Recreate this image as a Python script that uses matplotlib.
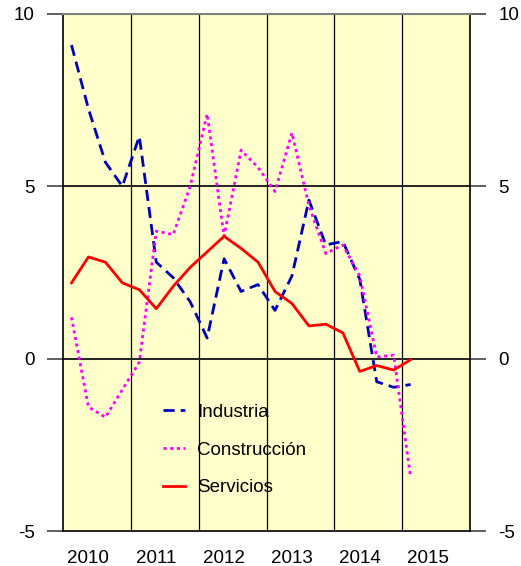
import numpy as np
import matplotlib
matplotlib.use("Agg")
from matplotlib import pyplot as plt

plt.rcParams['font.family'] = ['Liberation Sans', 'DejaVu Sans']
plt.rcParams['axes.unicode_minus'] = False

# quarterly series, 2010 Q1 .. 2015 Q1
quarters = [2010 + i / 4 + 0.125 for i in range(21)]
industria = [9.1, 7.25, 5.7, 5.0, 6.45, 2.8, 2.35, 1.65, 0.6, 2.9, 1.95, 2.15,
             1.4, 2.4, 4.6, 3.3, 3.4, 2.3, -0.67, -0.83, -0.75]
construccion = [1.2, -1.4, -1.7, -0.9, -0.1, 3.7, 3.6, 5.0, 7.1, 3.55, 6.05, 5.55,
                4.85, 6.55, 4.45, 3.05, 3.3, 2.4, 0.05, 0.1, -3.45]
servicios = [2.2, 2.95, 2.8, 2.2, 2.0, 1.45, 2.1, 2.65, 3.1, 3.55, 3.2, 2.8,
             1.95, 1.6, 0.95, 1.0, 0.75, -0.37, -0.2, -0.33, -0.03]
years = [2010, 2011, 2012, 2013, 2014, 2015]
yticks = [-5, 0, 5, 10]

fig = plt.figure(figsize=(5.21, 5.66), dpi=100)
ax = fig.add_axes([63 / 521, 1 - 531 / 566, 407 / 521, 517 / 566])
ax.set_facecolor('#FFFFCC')

# year separators and horizontal grid
for yr in years[1:]:
    ax.axvline(yr, color='black', lw=0.9, zorder=1)
for v in [0, 5]:
    ax.axhline(v, color='#222222', lw=1.4, zorder=1)

ax.plot(quarters, industria, color='#0000C0', lw=2.0, dashes=(4, 2.2), label='Industria', zorder=3)
ax.plot(quarters, construccion, color='#FF00FF', lw=2.0, dashes=(1.1, 1.3), label='Construcción', zorder=3)
ax.plot(quarters, servicios, color='#FF0000', lw=2.0, label='Servicios', zorder=3)

ax.set_xlim(2010, 2016)
ax.set_ylim(-5, 10)

ax.set_xticks([y + 0.375 for y in years])
ax.set_xticklabels([str(y) for y in years])
ax.tick_params(axis='x', length=0, pad=14, labelsize=13.5)

ax.set_yticks(yticks)
ax.tick_params(axis='y', direction='out', length=11.5, width=1.2, color='#444444',
               left=True, right=True, labelleft=True, labelright=True, pad=9, labelsize=13.5)

for side in ['left', 'right', 'bottom']:
    ax.spines[side].set_color('black')
    ax.spines[side].set_linewidth(1.2)
ax.spines['top'].set_color('#808080')
ax.spines['top'].set_linewidth(1.5)

leg = ax.legend(loc='upper left', bbox_to_anchor=(0.246, 0.246), frameon=False,
                fontsize=13.5, handlelength=1.15, handletextpad=0.65, labelspacing=1.09,
                borderpad=0, borderaxespad=0)

fig.savefig('out.png', dpi=100)
